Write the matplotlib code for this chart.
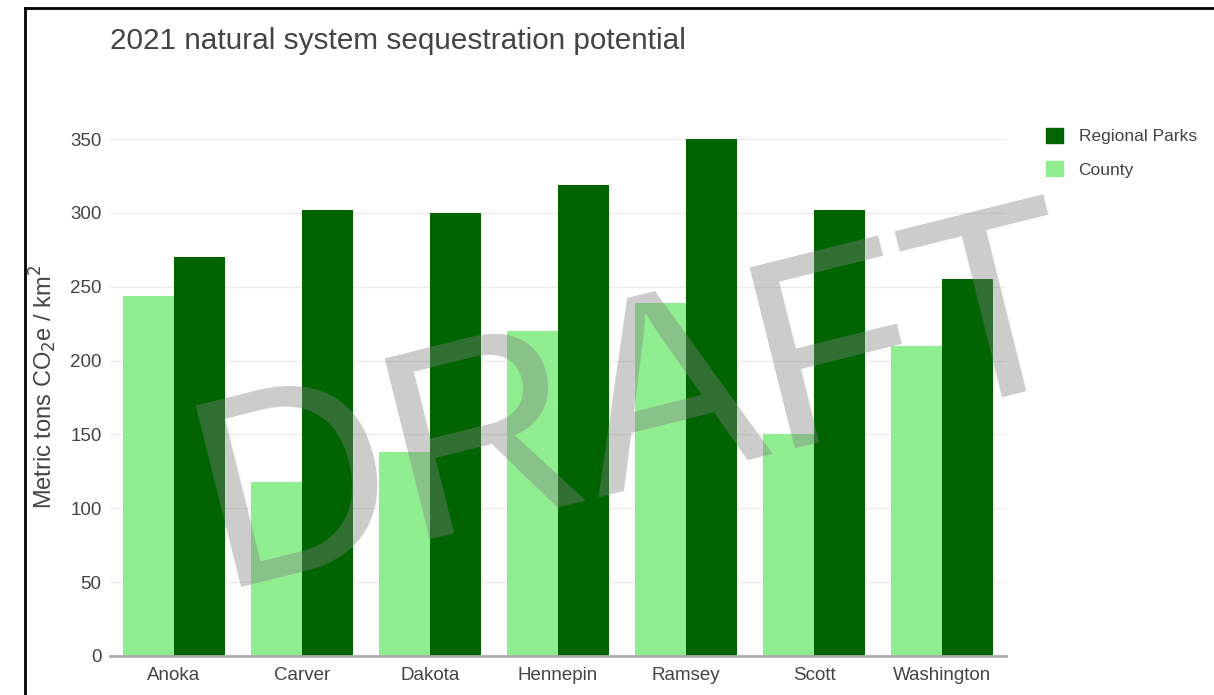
import numpy as np
import matplotlib.pyplot as plt
from matplotlib.patches import Patch
from matplotlib.lines import Line2D

counties = ["Anoka", "Carver", "Dakota", "Hennepin", "Ramsey", "Scott", "Washington"]
county_vals = [244, 118, 138, 220, 239, 150, 210]
parks_vals = [270, 302, 300, 319, 350, 302, 255]
yticks = [0, 50, 100, 150, 200, 250, 300, 350]

plt.rcParams['font.family'] = ['Liberation Sans Narrow', 'Liberation Sans', 'DejaVu Sans']

light = "#90ee90"
dark = "#006400"
txt = "#444444"

fig = plt.figure(figsize=(12.14, 6.95), dpi=100)
ax = fig.add_axes([110 / 1214, 39 / 695, 896 / 1214, 539 / 695])

x = np.arange(len(counties))
w = 0.4
ax.bar(x - w / 2, county_vals, w, color=light, zorder=2)
ax.bar(x + w / 2, parks_vals, w, color=dark, zorder=2)

ax.set_xlim(-0.5, len(counties) - 0.5)
ax.set_ylim(0, 365)
ax.set_yticks(yticks)
ax.set_xticks(x)
ax.set_xticklabels(counties)
ax.tick_params(axis='both', length=0, labelsize=13.5, colors=txt)
ax.tick_params(axis='y', pad=6)
ax.tick_params(axis='x', pad=8)
ax.grid(axis='y', color='#ebebeb', linewidth=1, zorder=0)
for s in ['top', 'right', 'left']:
    ax.spines[s].set_visible(False)
ax.spines['bottom'].set_color('#aaaaaa')
ax.spines['bottom'].set_linewidth(2)
ax.spines['bottom'].set_zorder(3)

ax.set_ylabel("Metric tons CO$_2$e / km$^2$", fontsize=17, color=txt, labelpad=8)

fig.text(110 / 1214, 1 - 41 / 695, "2021 natural system sequestration potential",
         fontsize=21.4, color=txt, va='center', ha='left')

handles = [Patch(color=dark, label="Regional Parks"), Patch(color=light, label="County")]
fig.legend(handles=handles, loc='upper left', bbox_to_anchor=(1030 / 1214, 1 - 112 / 695),
           frameon=False, fontsize=12.5, labelcolor=txt, handlelength=1.0, handleheight=1.0,
           handletextpad=0.9, labelspacing=0.95)

# DRAFT watermark
fig.text(640 / 1214, 1 - 410 / 695, "DRAFT", fontsize=195, color='#808080', alpha=0.4,
         rotation=14, ha='center', va='center', family=['Liberation Sans', 'DejaVu Sans'],
         zorder=10)

# outer frame (left and top edges only visible)
fig.add_artist(Line2D([25 / 1214, 25 / 1214], [0, 1 - 8 / 695], color='black', linewidth=2))
fig.add_artist(Line2D([25 / 1214, 1], [1 - 8 / 695, 1 - 8 / 695], color='black', linewidth=2))

fig.savefig("out.png", dpi=100)
